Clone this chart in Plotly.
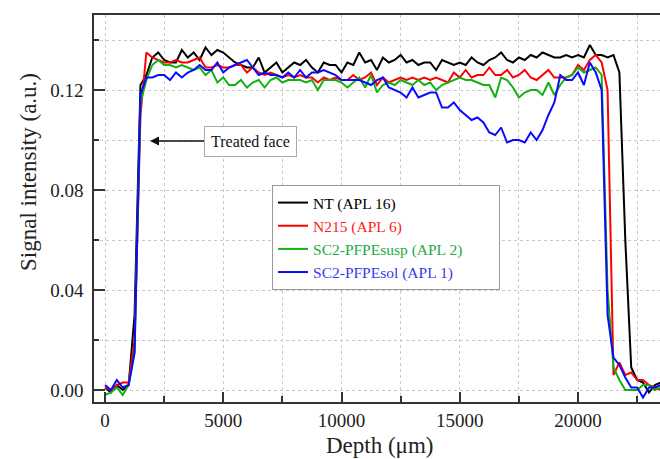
import plotly.graph_objects as go

depth = [i * 250 for i in range(95)]

nt_apl16 = [
    0.001, -0.001, 0.002, 0.000, 0.002, 0.030, 0.122, 0.126, 0.133, 0.135,
    0.132, 0.131, 0.131, 0.136, 0.133, 0.135, 0.132, 0.137, 0.134, 0.136,
    0.135, 0.133, 0.131, 0.130, 0.129, 0.129, 0.133, 0.127, 0.129, 0.131,
    0.127, 0.129, 0.131, 0.130, 0.132, 0.129, 0.127, 0.131, 0.130, 0.130,
    0.127, 0.131, 0.130, 0.135, 0.131, 0.132, 0.128, 0.133, 0.131, 0.132,
    0.134, 0.131, 0.132, 0.130, 0.131, 0.131, 0.128, 0.132, 0.131, 0.130,
    0.131, 0.130, 0.133, 0.131, 0.130, 0.132, 0.133, 0.135, 0.132, 0.131,
    0.133, 0.132, 0.134, 0.133, 0.135, 0.134, 0.133, 0.133, 0.134, 0.133,
    0.134, 0.133, 0.138, 0.134, 0.134, 0.133, 0.134, 0.127, 0.060, 0.009,
    0.004, 0.003, -0.001, 0.002, 0.003,
]

n215_apl6 = [
    0.001, 0.000, 0.002, 0.003, 0.003, 0.020, 0.110, 0.135, 0.133, 0.132,
    0.131, 0.131, 0.132, 0.131, 0.131, 0.132, 0.133, 0.129, 0.129, 0.130,
    0.129, 0.129, 0.130, 0.130, 0.127, 0.129, 0.127, 0.126, 0.127, 0.126,
    0.125, 0.126, 0.125, 0.126, 0.125, 0.125, 0.123, 0.125, 0.124, 0.125,
    0.124, 0.124, 0.126, 0.124, 0.125, 0.127, 0.122, 0.125, 0.123, 0.124,
    0.125, 0.124, 0.125, 0.124, 0.125, 0.124, 0.125, 0.124, 0.123, 0.127,
    0.125, 0.128, 0.125, 0.126, 0.126, 0.129, 0.126, 0.126, 0.128, 0.125,
    0.126, 0.128, 0.125, 0.124, 0.126, 0.128, 0.125, 0.125, 0.125, 0.126,
    0.130, 0.128, 0.132, 0.134, 0.131, 0.120, 0.006, 0.011, 0.006, 0.007,
    0.004, 0.004, 0.002, 0.001, 0.000,
]

sc2_pfpesusp_apl2 = [
    -0.002, -0.001, 0.001, -0.002, 0.002, 0.015, 0.115, 0.124, 0.130, 0.132,
    0.130, 0.130, 0.129, 0.130, 0.129, 0.128, 0.129, 0.126, 0.128, 0.123,
    0.125, 0.122, 0.122, 0.124, 0.121, 0.123, 0.124, 0.121, 0.124, 0.125,
    0.123, 0.124, 0.124, 0.124, 0.123, 0.124, 0.120, 0.124, 0.124, 0.124,
    0.123, 0.121, 0.123, 0.125, 0.121, 0.126, 0.119, 0.122, 0.123, 0.122,
    0.124, 0.123, 0.122, 0.124, 0.122, 0.123, 0.120, 0.122, 0.123, 0.124,
    0.125, 0.124, 0.124, 0.123, 0.122, 0.122, 0.117, 0.125, 0.124, 0.121,
    0.117, 0.119, 0.120, 0.120, 0.118, 0.123, 0.118, 0.122, 0.125, 0.126,
    0.129, 0.127, 0.128, 0.129, 0.126, 0.040, 0.009, 0.004, 0.000, 0.000,
    0.000, 0.002, 0.002, 0.000, 0.001,
]

sc2_pfpesol_apl1 = [
    0.002, 0.000, 0.004, 0.001, 0.002, 0.015, 0.118, 0.125, 0.125, 0.126,
    0.126, 0.124, 0.127, 0.125, 0.127, 0.128, 0.130, 0.128, 0.128, 0.131,
    0.127, 0.129, 0.130, 0.131, 0.132, 0.129, 0.126, 0.127, 0.126, 0.126,
    0.125, 0.127, 0.125, 0.128, 0.125, 0.127, 0.127, 0.128, 0.127, 0.126,
    0.124, 0.124, 0.124, 0.124, 0.123, 0.122, 0.124, 0.125, 0.121, 0.120,
    0.119, 0.117, 0.121, 0.117, 0.118, 0.119, 0.119, 0.113, 0.113, 0.115,
    0.112, 0.110, 0.108, 0.109, 0.107, 0.103, 0.102, 0.105, 0.099, 0.100,
    0.100, 0.099, 0.103, 0.100, 0.104, 0.110, 0.115, 0.126, 0.124, 0.124,
    0.127, 0.122, 0.131, 0.127, 0.120, 0.030, 0.013, 0.010, 0.005, 0.001,
    0.001, -0.003, 0.001, 0.001, 0.002,
]

series = [
    ("NT (APL 16)", nt_apl16, "#000000", "#000000"),
    ("N215 (APL 6)", n215_apl6, "#ff0000", "#ff2020"),
    ("SC2-PFPEsusp (APL 2)", sc2_pfpesusp_apl2, "#12b012", "#22aa44"),
    ("SC2-PFPEsol (APL 1)", sc2_pfpesol_apl1, "#0a0aff", "#3a3af0"),
]

x_major = [0, 5000, 10000, 15000, 20000]
x_labels = ["0", "5000", "10000", "15000", "20000"]
y_major = [0.00, 0.04, 0.08, 0.12]
y_labels = ["0.00", "0.04", "0.08", "0.12"]

SERIF = "Liberation Serif, Times New Roman, serif"
PAD = "&nbsp;" * 8

fig = go.Figure()
for i, (name, vals, col, tcol) in enumerate(series):
    label = f"<span style='color:{tcol}'>{name}</span>"
    if i == 2:
        label += PAD
    fig.add_trace(go.Scatter(
        x=depth, y=vals, mode="lines", name=label,
        line=dict(color=col, width=2),
    ))

grid = "#c9c9c9"
fig.update_layout(
    width=660, height=459,
    margin=dict(l=94, r=0, t=15, b=57, autoexpand=False),
    paper_bgcolor="white", plot_bgcolor="white",
    font=dict(family=SERIF, color="#222222"),
    xaxis=dict(
        range=[-465, 23467], tickvals=x_major, ticktext=x_labels,
        ticks="inside", ticklen=10, tickwidth=1.5, tickcolor="#333333",
        showline=True, linecolor="#333333", linewidth=1.5, mirror=True,
        showgrid=True, gridcolor=grid, griddash="dot", gridwidth=1,
        zeroline=False, automargin=False,
        tickfont=dict(family=SERIF, size=19, color="#222222"),
        minor=dict(dtick=2500, tick0=0, ticks="inside", ticklen=6, tickwidth=1.5,
                   tickcolor="#333333", showgrid=True, gridcolor=grid, griddash="dot"),
    ),
    yaxis=dict(
        range=[-0.0048, 0.15], tickvals=y_major, ticktext=y_labels,
        ticks="inside", ticklen=11, tickwidth=1.5, tickcolor="#333333",
        showline=True, linecolor="#333333", linewidth=1.5, mirror=False,
        showgrid=True, gridcolor=grid, griddash="dot", gridwidth=1,
        zeroline=False, automargin=False, ticklabelstandoff=5,
        tickfont=dict(family=SERIF, size=19, color="#222222"),
        minor=dict(dtick=0.02, tick0=0, ticks="inside", ticklen=5, tickwidth=1.5,
                   tickcolor="#333333", showgrid=True, gridcolor=grid, griddash="dot"),
    ),
    legend=dict(
        x=0.3145, y=0.5607, xanchor="left", yanchor="top",
        bgcolor="white", bordercolor="#9a9a9a", borderwidth=1,
        font=dict(family=SERIF, size=15.5),
        tracegroupgap=0,
    ),
    showlegend=True,
)

fig.add_annotation(
    x=1903, y=0.0996, xref="x", yref="y",
    text="Treated face", showarrow=True,
    ax=100, ay=0, axref="pixel", ayref="pixel",
    arrowhead=2, arrowsize=1.2, arrowwidth=1.5, arrowcolor="#111111",
    bgcolor="white", bordercolor="#aaaaaa", borderwidth=1, borderpad=6,
    font=dict(family=SERIF, size=16, color="#111111"),
)

pw, ph = 660 - 94 - 0, 459 - 15 - 57

def px_to_paper(px, py):
    return (px - 94) / pw, 1 - (py - 15) / ph

tx, ty = px_to_paper(380, 446)
fig.add_annotation(
    x=tx, y=ty, xref="paper", yref="paper", showarrow=False,
    xanchor="center", yanchor="middle",
    text="Depth (\u03bcm)", font=dict(family=SERIF, size=23, color="#222222"),
)
tx, ty = px_to_paper(28, 172)
fig.add_annotation(
    x=tx, y=ty, xref="paper", yref="paper", showarrow=False, textangle=-90,
    xanchor="center", yanchor="middle",
    text="Signal intensity (a.u.)", font=dict(family=SERIF, size=23, color="#222222"),
)

fig.write_html(
    "out.html",
    config={"displayModeBar": False},
    post_script="document.body.style.margin='0px';document.body.style.overflow='hidden';",
)
